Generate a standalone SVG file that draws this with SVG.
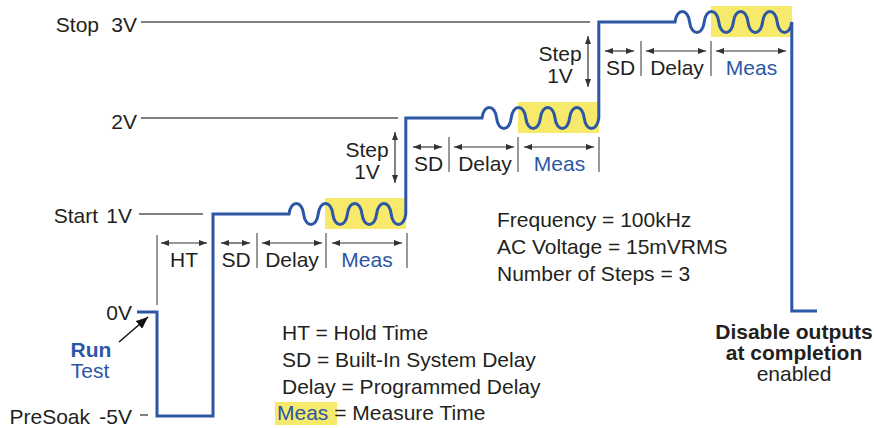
<svg xmlns="http://www.w3.org/2000/svg" width="874" height="428" viewBox="0 0 874 428">
<defs>
<style>
text{font-family:"Liberation Sans",Arial,Helvetica,sans-serif;font-size:21px;fill:#231f20}
.blue{fill:#2c56a6}
.b{font-weight:bold}
.mid{text-anchor:middle}
.end{text-anchor:end}
.ref{stroke:#555;stroke-width:1.5;fill:none}
.tick{stroke:#777;stroke-width:1.5;fill:none}
.dim{stroke:#333;stroke-width:1.2;fill:none;marker-start:url(#ah);marker-end:url(#ah)}
.hl{fill:#f6e96b}
.wave{stroke:#2c56a6;stroke-width:3;fill:none}
</style>
<marker id="ah" viewBox="0 0 8 6" refX="8" refY="3" markerWidth="8" markerHeight="6" markerUnits="userSpaceOnUse" orient="auto-start-reverse">
<path d="M0,0 L8,3 L0,6 z" fill="#333"/>
</marker>
<marker id="bigah" viewBox="0 0 12 10" refX="12" refY="5" markerWidth="12" markerHeight="10" markerUnits="userSpaceOnUse" orient="auto">
<path d="M0,0 L12,5 L0,10 z" fill="#111"/>
</marker>
</defs>

<g id="highlights">
<rect class="hl" x="325" y="198" width="81" height="31"/>
<rect class="hl" x="518" y="102" width="81" height="31"/>
<rect class="hl" x="711" y="6" width="81" height="31"/>
<rect class="hl" x="275" y="402" width="62" height="23"/>
</g>

<g id="levels">
<line class="ref" x1="141" y1="22" x2="590" y2="22"/>
<line class="ref" x1="141" y1="118" x2="398" y2="118"/>
<line class="ref" x1="139" y1="214" x2="203" y2="214"/>
<line class="ref" x1="140" y1="415" x2="148" y2="415"/>
<text class="end" x="99" y="32">Stop</text><text class="end" x="137" y="32">3V</text>
<text class="end" x="137" y="129">2V</text>
<text class="end" x="98" y="223">Start</text><text class="end" x="132" y="223">1V</text>
<text class="end" x="132" y="320">0V</text>
<text class="end" x="90" y="424">PreSoak</text><text class="end" x="132" y="424">-5V</text>
</g>

<g id="connectors">
<path class="wave" d="M137,312 H157 V416 H213 V214 H289
c1.6,-14 13,-14 14.6,0 c1.6,14 13,14 14.6,0 c1.6,-14 13,-14 14.6,0 c1.6,14 13,14 14.6,0
c1.6,-14 13,-14 14.6,0 c1.6,14 13,14 14.6,0 c1.6,-14 13,-14 14.6,0 c1.6,14 13,14 14.6,0
V118 H482
c1.6,-14 13,-14 14.6,0 c1.6,14 13,14 14.6,0 c1.6,-14 13,-14 14.6,0 c1.6,14 13,14 14.6,0
c1.6,-14 13,-14 14.6,0 c1.6,14 13,14 14.6,0 c1.6,-14 13,-14 14.6,0 c1.6,14 13,14 14.6,0
V22 H675
c1.6,-14 13,-14 14.6,0 c1.6,14 13,14 14.6,0 c1.6,-14 13,-14 14.6,0 c1.6,14 13,14 14.6,0
c1.6,-14 13,-14 14.6,0 c1.6,14 13,14 14.6,0 c1.6,-14 13,-14 14.6,0 c1.6,14 13,14 14.6,0
V311 H817"/>
<line x1="119" y1="342" x2="148" y2="317" stroke="#111" stroke-width="1.5" marker-end="url(#bigah)"/>
</g>

<g id="step1-timing">
<line class="tick" x1="157" y1="235" x2="157" y2="305"/>
<line class="dim" x1="161" y1="243" x2="207" y2="243"/>
<text class="mid" x="184" y="267">HT</text>
<line class="dim" x1="221" y1="243" x2="250" y2="243"/>
<text class="mid" x="236" y="267">SD</text>
<line class="tick" x1="257" y1="233" x2="257" y2="268"/>
<line class="dim" x1="262" y1="243" x2="322" y2="243"/>
<text class="mid" x="292" y="267">Delay</text>
<line class="tick" x1="326" y1="233" x2="326" y2="268"/>
<line class="dim" x1="332" y1="243" x2="402" y2="243"/>
<text class="mid blue" x="367" y="267">Meas</text>
<line class="tick" x1="407" y1="233" x2="407" y2="268"/>
</g>

<g id="step2-timing">
<line class="dim" x1="413" y1="147" x2="442" y2="147"/>
<text class="mid" x="428.5" y="171">SD</text>
<line class="tick" x1="449" y1="137" x2="449" y2="172"/>
<line class="dim" x1="454" y1="147" x2="514" y2="147"/>
<text class="mid" x="485" y="171">Delay</text>
<line class="tick" x1="518" y1="137" x2="518" y2="172"/>
<line class="dim" x1="524" y1="147" x2="594" y2="147"/>
<text class="mid blue" x="559.5" y="171">Meas</text>
<line class="tick" x1="599" y1="137" x2="599" y2="172"/>
</g>

<g id="step3-timing">
<line class="dim" x1="605" y1="51" x2="634" y2="51"/>
<text class="mid" x="620.5" y="75">SD</text>
<line class="tick" x1="641" y1="41" x2="641" y2="76"/>
<line class="dim" x1="646" y1="51" x2="706" y2="51"/>
<text class="mid" x="677" y="75">Delay</text>
<line class="tick" x1="711" y1="41" x2="711" y2="76"/>
<line class="dim" x1="716" y1="51" x2="786" y2="51"/>
<text class="mid blue" x="751.5" y="75">Meas</text>
</g>

<g id="step-labels">
<line class="dim" x1="395" y1="132" x2="395" y2="183"/>
<text class="mid" x="367" y="157">Step</text>
<text class="mid" x="367" y="179">1V</text>
<line class="dim" x1="588" y1="36" x2="588" y2="87"/>
<text class="mid" x="560" y="61">Step</text>
<text class="mid" x="560" y="83">1V</text>
</g>

<g id="run-test">
<text class="mid blue b" x="91" y="357">Run</text>
<text class="mid blue" x="90" y="378">Test</text>
</g>

<g id="settings">
<text x="497" y="227">Frequency = 100kHz</text>
<text x="497" y="254">AC Voltage = 15mVRMS</text>
<text x="497" y="281">Number of Steps = 3</text>
</g>

<g id="legend">
<text x="282" y="340">HT = Hold Time</text>
<text x="282" y="367">SD = Built-In System Delay</text>
<text x="282" y="394">Delay = Programmed Delay</text>
<text x="277" y="420"><tspan class="blue">Meas</tspan> = Measure Time</text>
</g>

<g id="disable-note">
<text class="mid b" x="794" y="339">Disable outputs</text>
<text class="mid b" x="794" y="360">at completion</text>
<text class="mid" x="794" y="381">enabled</text>
</g>
</svg>
